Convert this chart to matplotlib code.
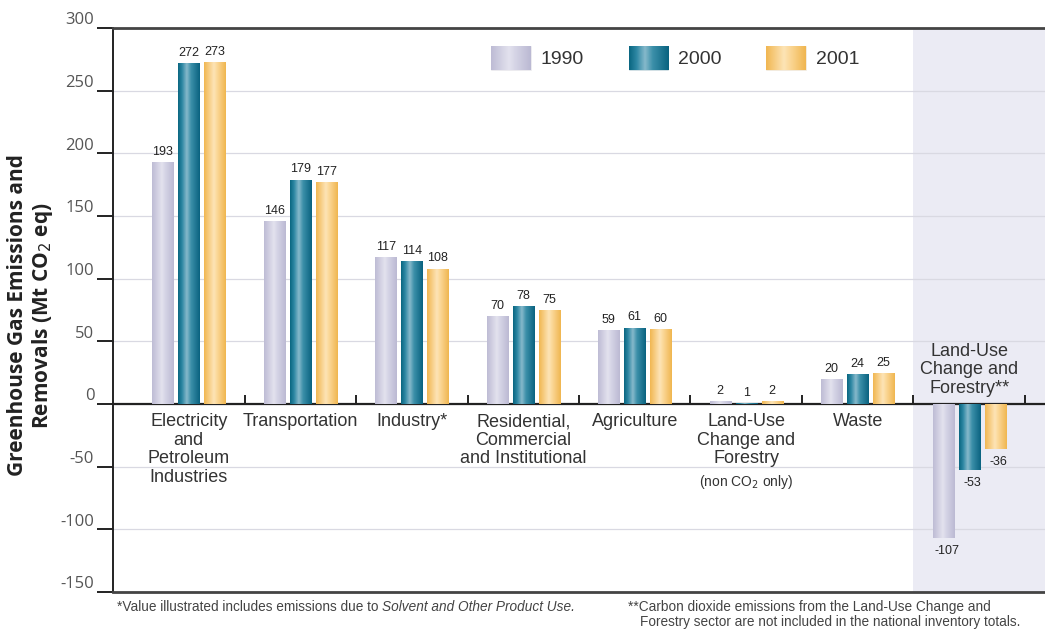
import numpy as np
import matplotlib
matplotlib.use("Agg")
import matplotlib.pyplot as plt
from matplotlib.colors import LinearSegmentedColormap
from matplotlib.patches import Patch
from matplotlib.transforms import ScaledTranslation

plt.rcParams["axes.unicode_minus"] = False

# data
categories = [
    "Electricity\nand\nPetroleum\nIndustries",
    "Transportation",
    "Industry*",
    "Residential,\nCommercial\nand Institutional",
    "Agriculture",
    "Land-Use\nChange and\nForestry",
    "Waste",
    "Land-Use\nChange and\nForestry**",
]
years = ["1990", "2000", "2001"]
values_1990 = [193, 146, 117, 70, 59, 2, 20, -107]
values_2000 = [272, 179, 114, 78, 61, 1, 24, -53]
values_2001 = [273, 177, 108, 75, 60, 2, 25, -36]
y_ticks = [300, 250, 200, 150, 100, 50, 0, -50, -100, -150]

series = [values_1990, values_2000, values_2001]
solid = ["#c9c7dd", "#1f7f9b", "#f6c772"]
gradients = [
    LinearSegmentedColormap.from_list("g1990", [(0, "#bebcd5"), (0.45, "#e3e2ee"), (0.6, "#d6d5e6"), (1, "#bbb9d3")]),
    LinearSegmentedColormap.from_list("g2000", [(0, "#0a6681"), (0.18, "#2d87a3"), (0.4, "#86b9cb"), (0.6, "#3b8fa9"), (1, "#0a6380")]),
    LinearSegmentedColormap.from_list("g2001", [(0, "#f1b752"), (0.45, "#fde4b6"), (0.6, "#fbd898"), (1, "#f0b650")]),
]

fig = plt.figure(figsize=(10.45, 6.37), dpi=100)
ax = fig.add_axes([113 / 1045, 1 - 592 / 637, 1 - 113 / 1045, (592 - 28) / 637])

x = np.arange(len(categories))
width = 0.19
offsets = [-0.233, 0, 0.233]

# shaded LUCF area
ax.axvspan(x[-1] - 0.5, x[-1] + 0.7, color="#ebebf4", zorder=0, lw=0)

grad = np.linspace(0, 1, 64).reshape(1, -1)
for vals, off, cmap, col in zip(series, offsets, gradients, solid):
    bars = ax.bar(x + off, vals, width, color=col, zorder=3, lw=0)
    for b, v in zip(bars, vals):
        x0 = b.get_x()
        im = ax.imshow(grad, cmap=cmap, aspect="auto", zorder=3.5,
                       extent=[x0, x0 + b.get_width(), min(0, v), max(0, v)])
        im.set_clip_path(b)
        if v >= 0:
            ax.annotate(str(v), (x0 + b.get_width() / 2, v), xytext=(0, 3),
                        textcoords="offset points", ha="center", va="bottom",
                        fontsize=9, color="#222222", family="Liberation Sans")
        else:
            ax.annotate(str(v), (x0 + b.get_width() / 2 + 0.03, v), xytext=(0, -5),
                        textcoords="offset points", ha="center", va="top",
                        fontsize=9, color="#222222", family="Liberation Sans")

ax.set_xlim(-0.68, 7.68)
ax.set_ylim(-150, 300)

# zero line with separators
ax.axhline(0, color="#222222", lw=1.6, zorder=2)
ax.vlines(x + 0.5, 0, 7, color="#222222", lw=1.4, zorder=2)

# grid
ax.set_yticks(y_ticks)
ax.yaxis.grid(True, color="#d9d9e2", lw=0.9)
ax.set_axisbelow(True)
ax.set_xticks([])
ax.tick_params(axis="y", length=11.5, width=1.4, color="#222222", pad=2,
               labelsize=12, labelcolor="#555555")
off_up = ScaledTranslation(0, 7 / 72, fig.dpi_scale_trans)
for lab in ax.get_yticklabels():
    lab.set_family("Open Sans")
    lab.set_transform(lab.get_transform() + off_up)

ax.spines["right"].set_visible(False)
ax.spines["left"].set_color("#222222")
ax.spines["left"].set_linewidth(1.4)
ax.spines["top"].set_color("#444444")
ax.spines["top"].set_linewidth(2)
ax.spines["bottom"].set_color("#444444")
ax.spines["bottom"].set_linewidth(2)

# category labels
cat_style = dict(textcoords="offset points", ha="center", fontsize=13, color="#333333",
                 family="Liberation Sans", linespacing=1.13)
for i, name in enumerate(categories):
    if i == len(categories) - 1:
        ax.annotate(name, (x[i], 0), xytext=(0, 5), va="bottom", **cat_style)
    else:
        ax.annotate(name, (x[i], 0), xytext=(0, -6.5), va="top", **cat_style)
ax.annotate("(non CO$_2$ only)", (x[5], 0), xytext=(0, -56), textcoords="offset points",
            ha="center", va="center", fontsize=10, color="#333333", family="Liberation Sans")

# y label
fig.text(31 / 1045, 0.505, "Greenhouse Gas Emissions and\nRemovals (Mt CO$_2$ eq)",
         rotation=90, ha="center", va="center", fontsize=15, fontweight="bold",
         color="#222222", family="Open Sans", linespacing=1.15, multialignment="center")

# legend
handles = [Patch(facecolor=c, edgecolor="#f0f0f0", lw=0.5) for c in solid]
leg = ax.legend(handles, years, loc="upper left", ncol=3, frameon=False,
                bbox_to_anchor=(491 / 1045, 1 - 46 / 637), bbox_transform=fig.transFigure,
                borderpad=0, borderaxespad=0, handlelength=2.05,
                handleheight=1.5, handletextpad=0.5, columnspacing=2.3,
                prop={"family": "Liberation Sans", "size": 14})
for t in leg.get_texts():
    t.set_color("#333333")

# gradient on legend swatches
fig.canvas.draw()
inv = fig.transFigure.inverted()
for h, cmap in zip(leg.legend_handles, gradients):
    bb = h.get_window_extent().transformed(inv)
    sw = fig.add_axes([bb.x0, bb.y0, bb.width, bb.height])
    sw.imshow(grad, cmap=cmap, aspect="auto")
    sw.axis("off")

# footnotes
foot = dict(fontsize=9.8, color="#444444", family="Liberation Sans")
t1 = fig.text(117 / 1045, 1 - 607 / 637, "*Value illustrated includes emissions due to ",
              va="center", ha="left", **foot)
fig.canvas.draw()
bb = t1.get_window_extent().transformed(inv)
fig.text(bb.x1, 1 - 607 / 637, "Solvent and Other Product Use.", va="center", ha="left",
         style="italic", **foot)
fig.text(628 / 1045, 1 - 607 / 637, "**Carbon dioxide emissions from the Land-Use Change and",
         va="center", ha="left", **foot)
fig.text(640 / 1045, 1 - 622 / 637, "Forestry sector are not included in the national inventory totals.",
         va="center", ha="left", **foot)

fig.savefig("out.png", dpi=100)
